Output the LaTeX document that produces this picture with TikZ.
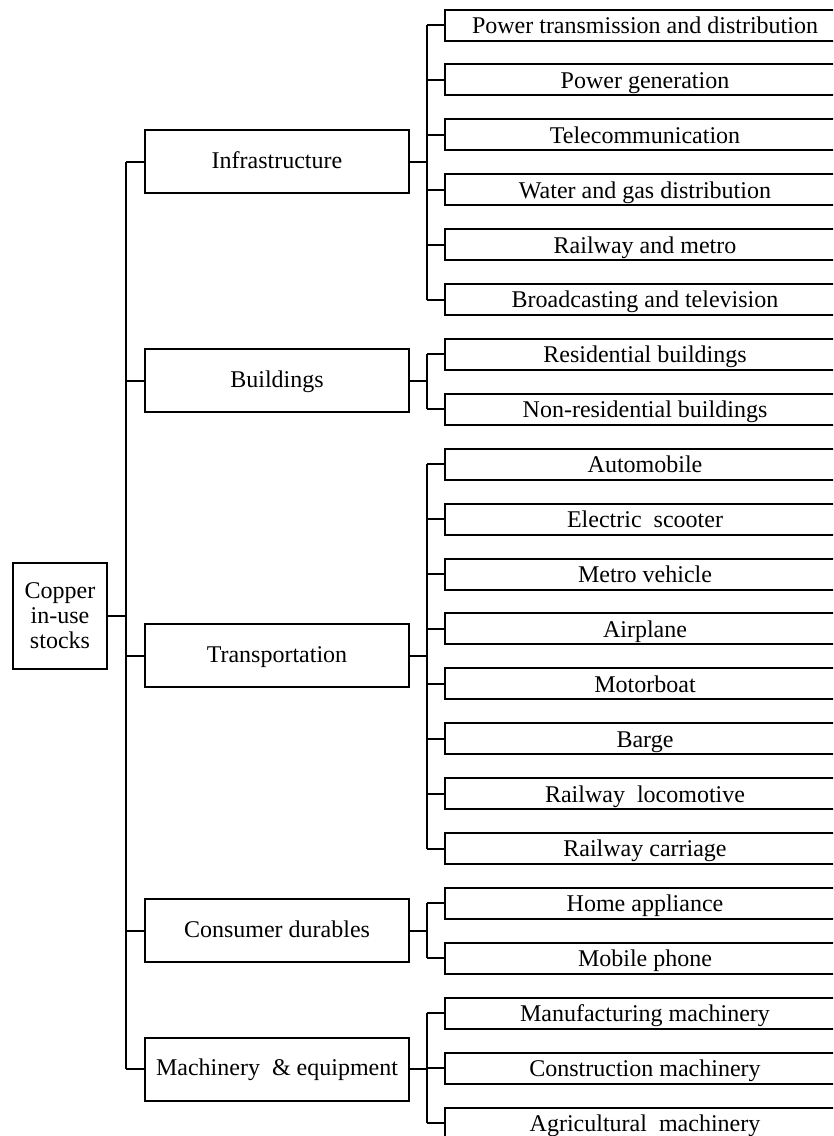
\documentclass[tikz,border=0pt]{standalone}
\usepackage{fontspec}
\setmainfont{Liberation Serif}
\begin{document}
\begin{tikzpicture}[x=0.75pt,y=-0.75pt,
  box/.style={draw, line width=1.5pt, inner sep=0pt, font=\fontsize{18}{18.8}\selectfont, align=center},
  leafbox/.style={box, text height=12.6pt, text depth=0pt, minimum width=400*0.75pt, minimum height=31*0.75pt},
  catbox/.style={box, text height=12.6pt, text depth=2.4pt, minimum width=264*0.75pt, minimum height=63*0.75pt},
  conn/.style={line width=1.5pt},
  busline/.style={line width=1.9pt}]
\useasboundingbox (0,0) rectangle (833,1136);
\clip (0,0) rectangle (833,1136);
% leaves
\foreach \t [count=\i from 0] in {Power transmission and distribution, Power generation, Telecommunication, Water and gas distribution, Railway and metro, Broadcasting and television, Residential buildings, Non-residential buildings, Automobile, Electric\ \ scooter, Metro vehicle, Airplane, Motorboat, Barge, Railway\ \ locomotive, Railway carriage, Home appliance, Mobile phone, Manufacturing machinery, Construction machinery, Agricultural\ \ machinery}{
  \pgfmathtruncatemacro{\n}{\i+1}
  \node[leafbox] (l\n) at (645,{25+54.9*\i}) {\t};
}
% categories
\node[catbox] (infra) at (277,161.5) {Infrastructure};
\node[catbox] (build) at (277,380.5) {Buildings};
\node[catbox] (trans) at (277,655.5) {Transportation};
\node[catbox] (cons) at (277,930.5) {Consumer durables};
\node[catbox] (mach) at (277,1069) {Machinery \ \& equipment};
% root
\node[box, minimum width=94*0.75pt, minimum height=106*0.75pt] (root) at (60,616) {Copper\\in-use\\stocks};
% buses
\coordinate (lb) at (126,0);
\coordinate (rb) at (427,0);
\draw[conn] (root.east) -- (root.east -| lb);
\draw[busline] (infra.west -| lb) -- (mach.west -| lb);
\foreach \c in {infra,build,trans,cons,mach}{
  \draw[conn] (\c.west) -- (\c.west -| lb);
  \draw[conn] (\c.east) -- (\c.east -| rb);
}
\foreach \a/\b in {1/6,7/8,9/16,17/18,19/21}{
  \draw[busline] (l\a.west -| rb) -- (l\b.west -| rb);
}
\foreach \n in {1,...,21}{
  \draw[conn] (l\n.west) -- (l\n.west -| rb);
}
\end{tikzpicture}
\end{document}
